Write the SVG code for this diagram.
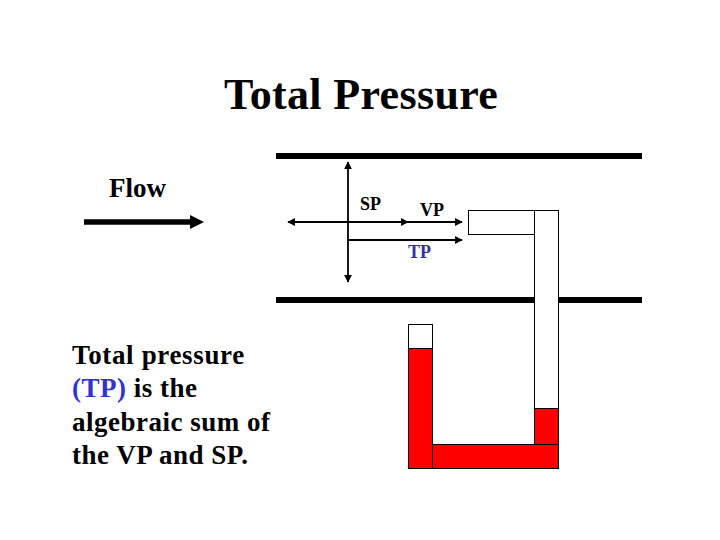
<svg xmlns="http://www.w3.org/2000/svg" width="720" height="540" viewBox="0 0 720 540">
<style>
text{font-family:"Liberation Serif","Times New Roman",serif;font-weight:bold;fill:#000}
.tube{fill:#fff;stroke:#000;stroke-width:1}
.liq{fill:#f00;stroke:#000;stroke-width:1}
.wall{fill:#000}
.c{stroke:#000;stroke-width:1.8;fill:none}
.blue{fill:#333399}
.blue2{fill:#3333cc}
</style>
<defs>
<marker id="a" viewBox="0 0 10 10" refX="9" refY="5" markerWidth="8" markerHeight="8" markerUnits="userSpaceOnUse" orient="auto"><path d="M0 0L10 5L0 10Z" fill="#000"/></marker>
<marker id="b" viewBox="0 0 10 10" refX="0" refY="5" markerWidth="14" markerHeight="14" markerUnits="userSpaceOnUse" orient="auto"><path d="M0 0L10 5L0 10Z" fill="#000"/></marker>
</defs>
<rect width="720" height="540" fill="#fff"/>
<text x="224" y="109" font-size="44" letter-spacing="0.35">Total Pressure</text>
<g id="pipe"><rect class="wall" x="276" y="153" width="366" height="6"/><rect class="wall" x="276" y="297" width="366" height="6"/></g>
<g id="flow"><text x="109" y="197" font-size="27">Flow</text></g>
<g id="manometer">
<rect class="tube" x="468.500" y="210.500" width="66" height="24"/>
<rect class="tube" x="534.500" y="210.500" width="24" height="198"/>
<rect class="tube" x="408.500" y="324.500" width="24" height="24"/>
<rect class="liq" x="408.500" y="348.500" width="24" height="120"/>
<rect class="liq" x="534.500" y="408.500" width="24" height="36"/>
<rect class="liq" x="432.500" y="444.500" width="126" height="24"/>
</g>
<g id="connectors">
<line x1="84" y1="222" x2="190" y2="222" stroke="#000" stroke-width="5.500" marker-end="url(#b)"/>
<line class="c" x1="348" y1="222" x2="348" y2="162" marker-end="url(#a)"/>
<line class="c" x1="348" y1="222" x2="348" y2="282" marker-end="url(#a)"/>
<line class="c" x1="348" y1="222" x2="288" y2="222" marker-end="url(#a)"/>
<line class="c" x1="348" y1="222" x2="408" y2="222" marker-end="url(#a)"/>
<line class="c" x1="408" y1="222" x2="462" y2="222" marker-end="url(#a)"/>
<line class="c" x1="348" y1="240" x2="462" y2="240" marker-end="url(#a)"/>
</g>
<g id="labels">
<text x="360" y="210" font-size="18">SP</text>
<text x="420" y="216" font-size="18">VP</text>
<text class="blue" x="408" y="258" font-size="18">TP</text>
</g>
<g id="note" font-size="27" letter-spacing="0.5">
<text x="72" y="364" letter-spacing="0.65">Total pressure</text>
<text x="72" y="397"><tspan class="blue2">(TP)</tspan> is the</text>
<text x="72" y="431">algebraic sum of</text>
<text x="72" y="464">the VP and SP.</text>
</g>
</svg>
